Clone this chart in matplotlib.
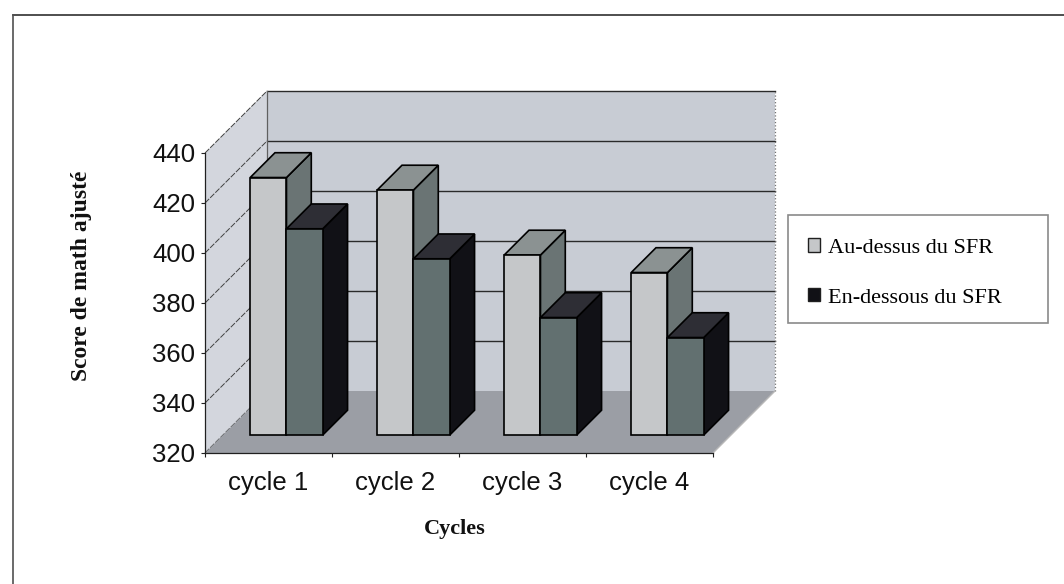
import matplotlib
matplotlib.use("Agg")
import matplotlib.pyplot as plt
from matplotlib.patches import Polygon, Patch, Rectangle
from matplotlib.lines import Line2D

# Data
categories = ["cycle 1", "cycle 2", "cycle 3", "cycle 4"]
series_names = ["Au-dessus du SFR", "En-dessous du SFR"]
above_sfr = [423, 418, 392, 385]
below_sfr = [402.5, 390.5, 367, 359]
y_ticks = [320, 340, 360, 380, 400, 420, 440]
y_min, y_max = 320, 440

# Styling of the pseudo-3D box
DX = 62 / 127.0          # horizontal shift of the full depth (category units)
DY = 62 / 2.5            # vertical shift of the full depth (value units)
T_FRONT, T_BACK = 0.29, 0.69   # bar depth span inside the box
GAP = 0.2143             # half of the gap around a category (gap width 150)
BAR_W = (1 - 2 * GAP) / 2

wall_back = "#c8ccd4"
wall_left = "#d3d6dd"
floor_col = "#9b9ea5"
bar_faces = [
    {"front": "#c5c7c9", "top": "#8b9292", "side": "#6a7474"},
    {"front": "#627070", "top": "#2e2e35", "side": "#111116"},
]

serif = ["Liberation Serif", "DejaVu Serif"]
sans = ["Liberation Sans", "DejaVu Sans"]


def proj(x, y, t):
    return (x + t * DX, y + t * DY)


fig = plt.figure(figsize=(10.64, 5.84), dpi=100)
ax = fig.add_axes([205 / 1064, (584 - 453) / 584, 508 / 1064, 300 / 584])
ax.set_xlim(0, len(categories))
ax.set_ylim(y_min, y_max)
ax.patch.set_visible(False)

n = len(categories)

# Walls and floor
back = Polygon([proj(0, y_min, 1), proj(n, y_min, 1), proj(n, y_max, 1), proj(0, y_max, 1)],
               closed=True, facecolor=wall_back, edgecolor="none", clip_on=False, zorder=0)
left = Polygon([proj(0, y_min, 0), proj(0, y_min, 1), proj(0, y_max, 1), proj(0, y_max, 0)],
               closed=True, facecolor=wall_left, edgecolor="none", clip_on=False, zorder=0)
floor = Polygon([proj(0, y_min, 0), proj(n, y_min, 0), proj(n, y_min, 1), proj(0, y_min, 1)],
                closed=True, facecolor=floor_col, edgecolor="none", clip_on=False, zorder=0.5)
for p in (back, left, floor):
    ax.add_patch(p)

# Gridlines on the back wall and the left wall
for v in y_ticks:
    a, b = proj(0, v, 0), proj(0, v, 1)
    ax.add_line(Line2D([a[0], b[0]], [a[1], b[1]], color="#404040", lw=0.7,
                       ls=(0, (6, 1.5)), clip_on=False, zorder=0.4))
    if v > y_min:
        c, d = proj(0, v, 1), proj(n, v, 1)
        ax.add_line(Line2D([c[0], d[0]], [c[1], d[1]], color="#2a2a2a", lw=1.0,
                           clip_on=False, zorder=0.4))
# back wall side edges
for xx, ls, col in ((0, "-", "#606060"), (n, ":", "#707070")):
    a, b = proj(xx, y_min, 1), proj(xx, y_max, 1)
    ax.add_line(Line2D([a[0], b[0]], [a[1], b[1]], color=col, lw=0.9, ls=ls,
                       clip_on=False, zorder=0.4))
# right edge of the floor
a, b = proj(n, y_min, 0), proj(n, y_min, 1)
ax.add_line(Line2D([a[0], b[0]], [a[1], b[1]], color="#b8b8b8", lw=1.0,
                   clip_on=False, zorder=0.6))

# Bars, drawn left to right so right-hand faces overlap correctly
for i in range(n):
    for j, vals in enumerate((above_sfr, below_sfr)):
        v = vals[i]
        x0 = i + GAP + j * BAR_W
        x1 = x0 + BAR_W
        cols = bar_faces[j]
        front = [proj(x0, y_min, T_FRONT), proj(x1, y_min, T_FRONT),
                 proj(x1, v, T_FRONT), proj(x0, v, T_FRONT)]
        top = [proj(x0, v, T_FRONT), proj(x1, v, T_FRONT),
               proj(x1, v, T_BACK), proj(x0, v, T_BACK)]
        side = [proj(x1, y_min, T_FRONT), proj(x1, y_min, T_BACK),
                proj(x1, v, T_BACK), proj(x1, v, T_FRONT)]
        z = 2 + i * 2 + j
        for pts, key in ((side, "side"), (top, "top"), (front, "front")):
            ax.add_patch(Polygon(pts, closed=True, facecolor=cols[key],
                                 edgecolor="black", lw=1.2, joinstyle="miter",
                                 clip_on=False, zorder=z))

# Axes: front value axis and category axis
for s in ("top", "right"):
    ax.spines[s].set_visible(False)
for s in ("left", "bottom"):
    ax.spines[s].set_color("#202020")
    ax.spines[s].set_linewidth(0.9)
    ax.spines[s].set_zorder(1)

ax.set_yticks(y_ticks)
ax.set_yticklabels([str(v) for v in y_ticks], family=sans, fontsize=18.5)
ax.tick_params(axis="y", direction="out", length=3, width=0.8, pad=4, colors="#202020")
ax.tick_params(axis="y", labelcolor="#111111")

ax.set_xticks(range(n + 1))
ax.set_xticklabels([""] * (n + 1))
ax.set_xticks([i + 0.5 for i in range(n)], minor=True)
ax.set_xticklabels(categories, minor=True, family=sans, fontsize=18.5, color="#111111")
ax.tick_params(axis="x", which="major", direction="out", length=3, width=0.8, colors="#202020")
ax.tick_params(axis="x", which="minor", length=0, pad=13)

ax.set_ylabel("Score de math ajusté", family=serif, fontweight="bold", fontsize=17,
              color="#111111")
ax.yaxis.set_label_coords((92 - 205) / 508, (453 - 276) / 300)

fig.text(455 / 1064, 1 - 529 / 584, "Cycles", family=serif, fontweight="bold",
         fontsize=16, ha="center", va="center", color="#111111")

# Legend
fig.add_artist(Rectangle((788 / 1064, 1 - 323 / 584), (1048 - 788) / 1064, 108 / 584,
                         transform=fig.transFigure, facecolor="white",
                         edgecolor="#8a8a8a", lw=1.2))
handles = [Patch(facecolor=bar_faces[0]["front"], edgecolor="#202020", lw=1.0),
           Patch(facecolor=bar_faces[1]["side"], edgecolor="#202020", lw=1.0)]
leg = fig.legend(handles, series_names, loc="center left",
                 bbox_to_anchor=(808 / 1064, 1 - 273 / 584),
                 prop={"family": serif, "size": 16}, frameon=False,
                 handlelength=0.55, handleheight=0.55,
                 handletextpad=0.35, labelspacing=1.35, borderpad=0, borderaxespad=0)

# Outer frame of the chart area
fig.add_artist(Line2D([13 / 1064, 1.0], [1 - 15 / 584] * 2, transform=fig.transFigure,
                      color="#303030", lw=1.2))
fig.add_artist(Line2D([13 / 1064] * 2, [0.0, 1 - 15 / 584], transform=fig.transFigure,
                      color="#505050", lw=1.2))

fig.savefig("out.png", dpi=100)
